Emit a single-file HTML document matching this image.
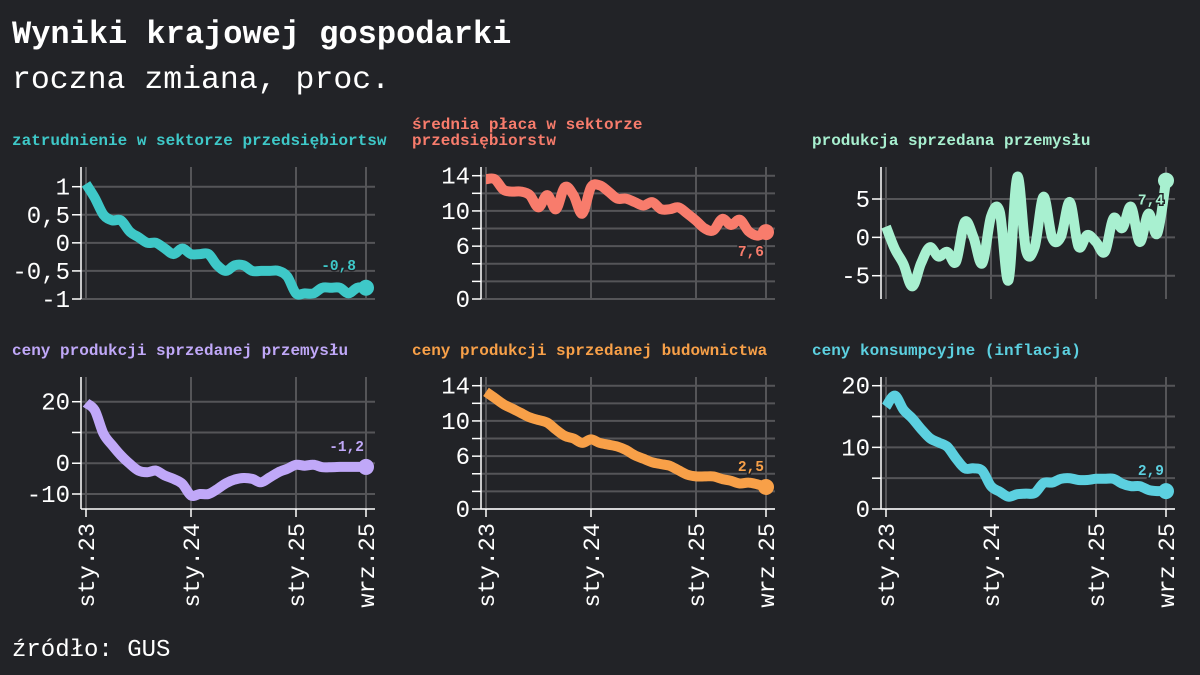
<!DOCTYPE html>
<html><head><meta charset="utf-8">
<style>
html,body{margin:0;padding:0;background:#222327;}
svg{display:block;font-family:"Liberation Mono",monospace;}
</style></head>
<body>
<svg id="chart" width="1200" height="675" viewBox="0 0 1200 675">
<rect width="1200" height="675" fill="#222327"/>
<text x="12" y="43" fill="#ffffff" font-size="32" font-weight="bold">Wyniki krajowej gospodarki</text>
<text x="12" y="88" fill="#ffffff" font-size="31.5">roczna zmiana, proc.</text>
<text x="12" y="656" fill="#ffffff" font-size="24">źródło: GUS</text>
</svg>
<script>
const months = 33; // sty.23 .. wrz.25
const xTickIdx = [0, 12, 24, 32];
const xTickLabels = ["sty.23", "sty.24", "sty.25", "wrz.25"];

const titles1 = ["zatrudnienie w sektorze przedsiębiortsw"];
const titles2 = ["średnia płaca w sektorze", "przedsiębiorstw"];
const titles3 = ["produkcja sprzedana przemysłu"];
const titles4 = ["ceny produkcji sprzedanej przemysłu"];
const titles5 = ["ceny produkcji sprzedanej budownictwa"];
const titles6 = ["ceny konsumpcyjne (inflacja)"];

const employment = [1.05,0.8,0.5,0.4,0.4,0.2,0.1,0,0,-0.1,-0.2,-0.1,-0.2,-0.2,-0.2,-0.4,-0.5,-0.4,-0.4,-0.5,-0.5,-0.5,-0.5,-0.6,-0.9,-0.9,-0.9,-0.8,-0.8,-0.8,-0.9,-0.8,-0.8];
const wages = [13.6,13.6,12.4,12.2,12.2,11.8,10.4,11.8,10.2,12.7,11.8,9.7,12.7,12.9,12.2,11.4,11.4,11.0,10.6,11.0,10.2,10.2,10.4,9.7,8.9,8.0,7.8,9.1,8.4,9.0,7.7,7.2,7.6];
const production = [1.4,-1.5,-3.5,-6.4,-3.4,-1.3,-2.5,-1.9,-3.2,2.0,0.0,-3.4,2.7,3.3,-5.6,7.9,-1.7,-1.2,5.3,-0.1,0.1,4.6,-1.2,0.3,-0.6,-1.9,2.5,1.2,4.0,-0.6,3.1,0.5,7.4];
const ppi = [19.6,17.2,9.6,5.8,2.5,-0.2,-2.4,-2.9,-2.4,-4.0,-5.1,-6.7,-10.5,-10.0,-10.0,-8.4,-6.5,-5.3,-4.8,-5.1,-6.2,-4.6,-2.9,-1.8,-0.5,-0.8,-0.5,-1.3,-1.3,-1.2,-1.2,-1.2,-1.2];
const construction = [13.3,12.6,11.9,11.4,10.9,10.4,10.1,9.8,9.0,8.3,8.0,7.5,7.9,7.5,7.3,7.1,6.7,6.1,5.7,5.3,5.1,4.9,4.4,3.9,3.7,3.7,3.7,3.4,3.2,2.9,3.0,2.8,2.5];
const cpi = [16.6,18.4,16.1,14.7,13.0,11.5,10.8,10.1,8.2,6.6,6.6,6.2,3.7,2.8,2.0,2.4,2.5,2.6,4.2,4.3,4.9,5.0,4.7,4.7,4.9,4.9,4.9,4.1,3.7,3.7,3.1,2.9,2.9];

const endLabels = ["-0,8","7,6","7,4","-1,2","2,5","2,9"];

const grid1 = [1,0.5,0,-0.5,-1], lab1 = ["1","0,5","0","-0,5","-1"];
const grid2 = [14,12,10,8,6,4,2,0], lab2 = ["14","","10","","6","","","0"];
const grid3 = [5,0,-5], lab3 = ["5","0","-5"];
const grid4 = [20,10,0,-10], lab4 = ["20","","0","-10"];
const grid5 = [14,12,10,8,6,4,2,0], lab5 = ["14","","10","","6","","","0"];
const grid6 = [20,15,10,5,0], lab6 = ["20","","10","","0"];

const NS = "http://www.w3.org/2000/svg";
const svg = document.getElementById("chart");
function mk(tag, attrs, parent){ const e=document.createElementNS(NS,tag); for(const k in attrs) e.setAttribute(k,attrs[k]); (parent||svg).appendChild(e); return e; }

function smoothPath(pts){
  let d = "M"+pts[0][0].toFixed(1)+","+pts[0][1].toFixed(1);
  for(let i=0;i<pts.length-1;i++){
    const p0=pts[Math.max(0,i-1)], p1=pts[i], p2=pts[i+1], p3=pts[Math.min(pts.length-1,i+2)];
    const t=1/6;
    const c1=[p1[0]+(p2[0]-p0[0])*t, p1[1]+(p2[1]-p0[1])*t];
    const c2=[p2[0]-(p3[0]-p1[0])*t, p2[1]-(p3[1]-p1[1])*t];
    d+=" C"+c1[0].toFixed(1)+","+c1[1].toFixed(1)+" "+c2[0].toFixed(1)+","+c2[1].toFixed(1)+" "+p2[0].toFixed(1)+","+p2[1].toFixed(1);
  }
  return d;
}

const panels = [
 {name:"employment", ox:0, top:167, bot:299, v1:1, y1:186.7, v2:-1, y2:299, data:employment, color:"#3ec8c8", titles:titles1, grid:grid1, lab:lab1, xaxis:false, lbl:[-10,-18]},
 {name:"wages", ox:400, top:167, bot:299, v1:14, y1:175.7, v2:0, y2:299, data:wages, color:"#f87c6c", titles:titles2, grid:grid2, lab:lab2, xaxis:false, lbl:[-2,24]},
 {name:"production", ox:800, top:167, bot:299, v1:5, y1:199, v2:-5, y2:275.7, data:production, color:"#a8f0d0", titles:titles3, grid:grid3, lab:lab3, xaxis:false, lbl:[-2,24]},
 {name:"producer-prices", ox:0, top:377, bot:509, v1:20, y1:401.7, v2:-10, y2:494, data:ppi, color:"#c0a8f8", titles:titles4, grid:grid4, lab:lab4, xaxis:true, lbl:[-2,-16]},
 {name:"construction-prices", ox:400, top:377, bot:509, v1:14, y1:385.7, v2:0, y2:509, data:construction, color:"#f8a048", titles:titles5, grid:grid5, lab:lab5, xaxis:true, lbl:[-2,-16]},
 {name:"consumer-prices", ox:800, top:377, bot:509, v1:20, y1:385.7, v2:0, y2:509, data:cpi, color:"#5cd0e0", titles:titles6, grid:grid6, lab:lab6, xaxis:true, lbl:[-2,-16]}
];

panels.forEach((p,pi)=>{
  const g = mk("g",{});
  
  
  const xS = i => p.ox + 86 + i*(280/(months-1));
  const yS = v => p.y1 + (v-p.v1)*(p.y2-p.y1)/(p.v2-p.v1);
  const ty = p.top - 22 - (p.titles.length-1)*16;
  p.titles.forEach((t,ti)=>{
    const te = mk("text",{x:p.ox+12, y:ty+ti*16, fill:p.color, "font-size":"16", "font-weight":"bold"}, g);
    te.textContent = t;
    
    
  });
  p.grid.forEach((v,gi)=>{
    const y = yS(v);
    const ln = mk("line",{x1:p.ox+81, x2:p.ox+375, y1:y, y2:y, stroke:"#555558", "stroke-width":"2"}, g);
    
    
    const tk = mk("line",{x1:p.ox+72, x2:p.ox+81, y1:y, y2:y, stroke:"#ffffff", "stroke-width":"1.5"}, g);
    
    
    if(p.lab[gi]){
      const tl = mk("text",{x:p.ox+70, y:y+8, fill:"#ffffff", "font-size":"24", "text-anchor":"end"}, g);
      tl.textContent = p.lab[gi];
      
      
    }
  });
  xTickIdx.forEach((ix,k)=>{
    const x = xS(ix);
    const vl = mk("line",{x1:x, x2:x, y1:p.top, y2:p.bot, stroke:"#555558", "stroke-width":"2"}, g);
    
    
    if(p.xaxis){
      const xt = mk("line",{x1:x, x2:x, y1:p.bot, y2:p.bot+8, stroke:"#ffffff", "stroke-width":"1.5"}, g);
      
      
      const xl = mk("text",{x:0, y:0, fill:"#ffffff", "font-size":"23.5", "text-anchor":"end", transform:"translate("+(x+8)+","+(p.bot+14)+") rotate(-90)"}, g);
      xl.textContent = xTickLabels[k];
      
      
    }
  });
  const ya = mk("line",{x1:p.ox+81, x2:p.ox+81, y1:p.top, y2:p.bot, stroke:"#ffffff", "stroke-width":"1.5"}, g);
  
  
  if(p.xaxis){
    const xa = mk("line",{x1:p.ox+81, x2:p.ox+375, y1:p.bot, y2:p.bot, stroke:"#ffffff", "stroke-width":"1.5"}, g);
    
    
  }
  const pts = p.data.map((v,i)=>[xS(i), yS(v)]);
  const path = mk("path",{d:smoothPath(pts), fill:"none", stroke:p.color, "stroke-width":"10", "stroke-linejoin":"round", "stroke-linecap":"butt"}, g);
  
  
  const last = pts[pts.length-1];
  const dot = mk("circle",{cx:last[0], cy:last[1], r:8, fill:p.color}, g);
  
  
  const vl = mk("text",{x:last[0]+p.lbl[0], y:last[1]+p.lbl[1], fill:p.color, "font-size":"14.5", "font-weight":"bold", "text-anchor":"end", stroke:"#222327", "stroke-width":"3", "paint-order":"stroke"}, g);
  vl.textContent = endLabels[pi];
  
  
});
</script>
</body></html>
